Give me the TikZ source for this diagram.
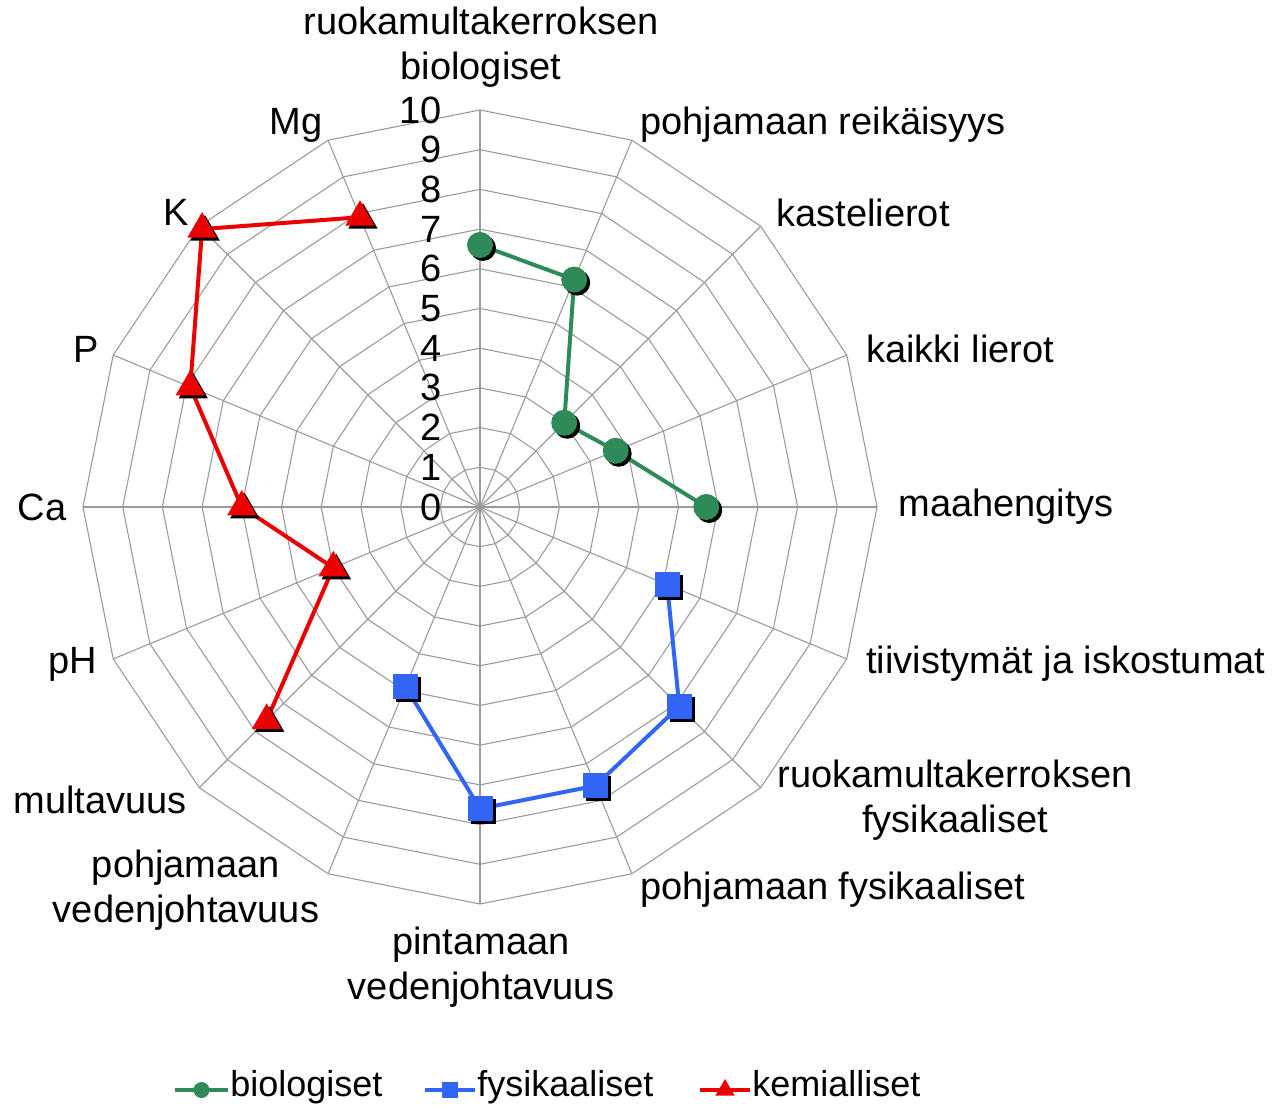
\documentclass[tikz,border=0pt]{standalone}
\usepackage{fontspec}
\setmainfont{Liberation Sans}
\usetikzlibrary{shapes.geometric}
\definecolor{colBio}{RGB}{46,139,87}
\definecolor{colFys}{RGB}{50,100,245}
\definecolor{colKem}{RGB}{235,0,0}
\definecolor{colVerkko}{RGB}{155,155,155}

\begin{document}
\begin{tikzpicture}[x=0.5pt, y=0.5pt, font=\fontsize{19}{22.5}\selectfont,
    verkko/.style={draw=colVerkko, line width=0.55pt},
    sarja/.style={line width=2pt},
    ympyra/.style={circle, inner sep=0pt, minimum size=13pt},
    nelio/.style={rectangle, inner sep=0pt, minimum size=12.5pt},
    kolmio/.style={regular polygon, regular polygon sides=3, inner sep=0pt,
      minimum size=17pt},
    nimi/.style={inner sep=1pt, align=center},
    pieni/.style={inner sep=0pt, minimum size=8pt},
    selite/.style={anchor=west, inner sep=1pt, text height=1.5ex,
      text depth=0.3ex, font=\fontsize{18}{21}\selectfont}]
    \useasboundingbox (-480,-604) rectangle (808,507);
    % verkko: 16 akselia, 10 kehaa
    \foreach \k in {0,...,15}
      \draw[verkko] (0,0) -- ({90-22.5*\k}:397);
    \foreach \r in {1,...,10}
      \draw[verkko] (90:{\r*39.7})
        \foreach \k in {1,...,15} { -- ({90-22.5*\k}:{\r*39.7}) } -- cycle;
    \foreach \r in {0,...,10}
      \node[anchor=east, inner sep=0pt] (n\r) at (-38,{\r*39.7}) {\r};
    % akselien nimet
    \node[nimi] (a0) at (1,460) {ruokamultakerroksen\\biologiset};
    \node[nimi, anchor=west] (a1) at (158,382) {pohjamaan reikäisyys};
    \node[nimi, anchor=west] (a2) at (294,294) {kastelierot};
    \node[nimi, anchor=west] (a3) at (384,158) {kaikki lierot};
    \node[nimi, anchor=west] (a4) at (416,0) {maahengitys};
    \node[nimi, anchor=west] (a5) at (384,-157) {tiivistymät ja iskostumat};
    \node[nimi] (a6) at (475,-293) {ruokamultakerroksen\\fysikaaliset};
    \node[nimi, anchor=west] (a7) at (158,-383) {pohjamaan fysikaaliset};
    \node[nimi] (a8) at (1,-460) {pintamaan\\vedenjohtavuus};
    \node[nimi] (a9) at (-294,-383) {pohjamaan\\vedenjohtavuus};
    \node[nimi] (a10) at (-380,-293) {multavuus};
    \node[nimi] (a11) at (-407,-157) {pH};
    \node[nimi] (a12) at (-438,0) {Ca};
    \node[nimi] (a13) at (-394,158) {P};
    \node[nimi] (a14) at (-304,295) {K};
    \node[nimi] (a15) at (-184,382) {Mg};
    % arvot
    \foreach \v [count=\k from 0] in {6.6,6.2,3.0,3.7,5.7}
      \coordinate (b\k) at ({90-22.5*\k}:{\v*39.7});
    \foreach \v [count=\k from 5] in {5.1,7.1,7.6,7.6,4.9}
      \coordinate (f\k) at ({90-22.5*\k}:{\v*39.7});
    \foreach \v [count=\k from 10] in {7.6,4.0,6.0,7.9,9.9,7.9}
      \coordinate (c\k) at ({90-22.5*\k}:{\v*39.7});
    \draw[sarja, colBio] (b0) -- (b1) -- (b2) -- (b3) -- (b4);
    \draw[sarja, colFys] (f5) -- (f6) -- (f7) -- (f8) -- (f9);
    \draw[sarja, colKem] (c10) -- (c11) -- (c12) -- (c13) -- (c14) -- (c15);
    \foreach \k in {0,...,4} {
      \node[ympyra, fill=black] (vb\k) at ([shift={(3,-3)}]b\k) {};
      \node[ympyra, fill=colBio] (mb\k) at (b\k) {};
    }
    \foreach \k in {5,...,9} {
      \node[nelio, fill=black] (vf\k) at ([shift={(3,-3)}]f\k) {};
      \node[nelio, fill=colFys] (mf\k) at (f\k) {};
    }
    \foreach \k in {10,...,15} {
      \node[kolmio, fill=black] (vc\k) at ([shift={(3,-3)}]c\k) {};
      \node[kolmio, fill=colKem] (mc\k) at (c\k) {};
    }
    % selite
    \coordinate (l1a) at (-305,-583); \coordinate (l1b) at (-252,-583);
    \coordinate (l2a) at (-55,-583); \coordinate (l2b) at (-5,-583);
    \coordinate (l3a) at (220,-583); \coordinate (l3b) at (270,-583);
    \draw[sarja, colBio] (l1a) -- node[pieni, circle, fill=colBio] (s1) {} (l1b);
    \draw[sarja, colFys] (l2a) -- node[pieni, fill=colFys] (s2) {} (l2b);
    \draw[sarja, colKem] (l3a) -- node[pieni, regular polygon,
      regular polygon sides=3, minimum size=11pt, fill=colKem] (s3) {} (l3b);
    \node[selite] (t1) at (l1b) {biologiset};
    \node[selite] (t2) at (l2b) {fysikaaliset};
    \node[selite] (t3) at (l3b) {kemialliset};
  \end{tikzpicture}
\end{document}
